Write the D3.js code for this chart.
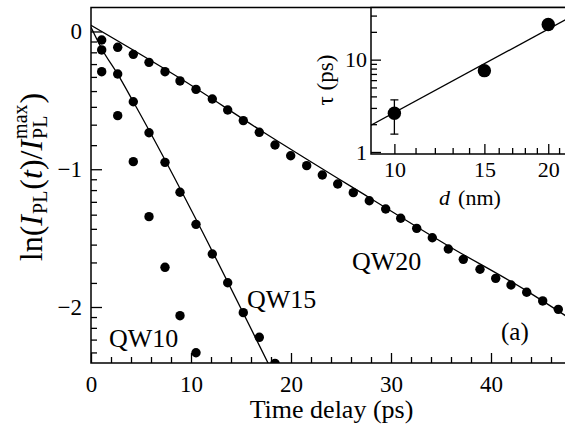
<!DOCTYPE html>
<html>
<head>
<meta charset="utf-8">
<title>PL decay</title>
<script src="https://cdn.jsdelivr.net/npm/d3@7"></script>
<style>
  body { margin: 0; background: #fff; }
  text { font-family: "Liberation Serif", "Times New Roman", serif; fill: #000; }
</style>
</head>
<body>
<div id="chart"></div>

<script type="text/javascript">
	// time delays (ps) of the measured points
	var times = [1.07, 2.67, 4.23, 5.8, 7.4, 8.9, 10.5, 12.13, 13.67, 15.23,
		16.83, 18.4, 19.97, 21.57, 23.13, 24.67, 26.23, 27.83, 29.47, 30.97,
		32.57, 34.13, 35.73, 37.23, 38.9, 40.47, 42.0, 43.57, 45.17, 46.73];
	// ln(I/Imax) for each well
	var qw20 = [-0.062, -0.115, -0.166, -0.224, -0.292, -0.359, -0.42, -0.49, -0.57, -0.647,
		-0.732, -0.824, -0.902, -0.974, -1.042, -1.107, -1.17, -1.229, -1.289, -1.356,
		-1.429, -1.497, -1.579, -1.654, -1.726, -1.792, -1.84, -1.893, -1.956, -2.017];
	var qw15 = [-0.134, -0.309, -0.51, -0.735, -0.95, -1.167, -1.40, -1.615, -1.824, -2.041, -2.22, -2.409];
	var qw10 = [-0.292, -0.611, -0.945, -1.344, -1.712, -2.063, -2.332];

	// fitted curves
	var fit20T = [0, 8.9, 16.9, 27.8, 35.7, 43.6, 47.7];
	var fit20Y = [0.045, -0.34, -0.715, -1.205, -1.555, -1.885, -2.075];
	var fit15T = [0, 1.07, 2.67, 4.23, 18];
	var fit15Y = [0.03, -0.125, -0.31, -0.51, -2.45];

	var xTicks = [0, 10, 20, 30, 40];
	var yTicks = [0, -1, -2];

	// inset: decay time vs well width
	var widths = [10, 15, 20];
	var tau = [2.63, 7.6, 24.0];
	var errD = [10], errLo = [1.56], errHi = [3.67];
	var fitD = [9, 22], fitTau = [1.95, 28.5];
	var dTicks = [10, 15, 20];
	var dMinor = [11, 12, 13, 14, 16, 17, 18, 19, 21];
	var tauTicks = [1, 10];
	var tauMinor = [2, 3, 4, 5, 6, 7, 8, 9, 20, 30];

	var width = 565, height = 431;
	var svg = d3.select("#chart").append("svg")
		.attr("width", width)
		.attr("height", height);

	var L = 91, R = 568, T = 7.5, B = 363;
	var x = d3.scaleLinear().domain([0, 47.7]).range([L, R]);
	var y = d3.scaleLinear().domain([-2.4065, 0.174]).range([B, T]);

	svg.append("clipPath").attr("id", "clipMain").append("rect")
		.attr("x", L).attr("y", T).attr("width", R - L).attr("height", B - T);

	// minor ticks of the y axis: linear steps in I between e^n and e^(n-1)
	var yMinor = [];
	yTicks.forEach(function(n) {
		for (var k = 1; k <= 8; k++) {
			var v = Math.log(Math.exp(n) - k * (Math.exp(n) - Math.exp(n - 1)) / 9);
			if (v > y.domain()[0]) yMinor.push(v);
		}
	});
	var xMinor = d3.range(2, 48, 2).filter(function(d) { return d % 10 != 0; });

	function styleAxis(g) {
		g.select(".domain").remove();
		g.selectAll("line").attr("stroke", "#000").attr("stroke-width", 1.3);
		g.selectAll("text").attr("fill", "#000");
	}

	var fmt = function(d) { return d < 0 ? "\u2212" + Math.abs(d) : "" + d; };

	svg.append("g").attr("transform", "translate(0," + B + ")")
		.call(d3.axisBottom(x).tickValues(xTicks).tickSize(-10).tickPadding(12.7).tickFormat(fmt))
		.call(styleAxis).attr("font-size", 23);
	svg.append("g").attr("transform", "translate(0," + B + ")")
		.call(d3.axisBottom(x).tickValues(xMinor).tickSize(-6).tickFormat(""))
		.call(styleAxis);
	svg.append("g").attr("transform", "translate(" + L + ",0)")
		.call(d3.axisLeft(y).tickValues(yTicks).tickSize(-11).tickPadding(9).tickFormat(fmt))
		.call(styleAxis).attr("font-size", 23);
	svg.append("g").attr("transform", "translate(" + L + ",0)")
		.call(d3.axisLeft(y).tickValues(yMinor).tickSize(-6).tickFormat(""))
		.call(styleAxis);

	// frame
	svg.append("path")
		.attr("d", "M" + R + "," + T + "H" + L + "V" + B + "H" + R)
		.attr("fill", "none").attr("stroke", "#000").attr("stroke-width", 1.5);

	var plot = svg.append("g").attr("clip-path", "url(#clipMain)");
	var line = d3.line().x(function(d) { return x(d[0]); }).y(function(d) { return y(d[1]); })
		.curve(d3.curveMonotoneX);

	plot.append("path").datum(d3.zip(fit20T, fit20Y))
		.attr("d", line).attr("fill", "none").attr("stroke", "#000").attr("stroke-width", 1.3);
	plot.append("path").datum(d3.zip(fit15T, fit15Y))
		.attr("d", line).attr("fill", "none").attr("stroke", "#000").attr("stroke-width", 1.3);

	[qw20, qw15, qw10].forEach(function(s) {
		plot.append("g").selectAll("circle").data(s).enter().append("circle")
			.attr("cx", function(d, i) { return x(times[i]); })
			.attr("cy", function(d) { return y(d); })
			.attr("r", 4.7)
			.attr("fill", "#000");
	});

	// labels in the main panel
	var labels = [["QW20", 352, 270], ["QW15", 247, 308], ["QW10", 109, 347]];
	svg.selectAll("text.lab").data(labels).enter().append("text")
		.attr("class", "lab")
		.attr("x", function(d) { return d[1]; })
		.attr("y", function(d) { return d[2]; })
		.attr("font-size", 26)
		.text(function(d) { return d[0]; });
	svg.append("text").attr("x", 501).attr("y", 340).attr("font-size", 25).text("(a)");

	svg.append("text").attr("x", (L + R) / 2 + 2).attr("y", 418)
		.attr("text-anchor", "middle").attr("font-size", 26)
		.text("Time delay (ps)");

	// y title with stacked sub/superscript
	var yt = svg.append("text")
		.attr("transform", "translate(42,177) rotate(-90)")
		.attr("text-anchor", "middle")
		.attr("font-size", 32);
	yt.append("tspan").text("ln(");
	yt.append("tspan").attr("font-style", "italic").text("I");
	yt.append("tspan").attr("font-size", 20).attr("dx", 1).attr("dy", 5).text("PL");
	yt.append("tspan").attr("dx", 1).attr("dy", -5).text("(");
	yt.append("tspan").attr("font-style", "italic").text("t");
	yt.append("tspan").text(")/");
	yt.append("tspan").attr("font-style", "italic").text("I");
	var sub = yt.append("tspan").attr("font-size", 20).attr("dx", 1).attr("dy", 5).text("PL");
	var subW = sub.node().getComputedTextLength();
	yt.append("tspan").attr("font-size", 20).attr("dx", -subW).attr("dy", -20).text("max");
	yt.append("tspan").attr("dx", 1).attr("dy", 15).text(")");

	// ---- inset ----
	var iL = 371, iR = 569.4, iT = 7.5, iB = 154;
	var xi = d3.scaleLog().domain([9, 22]).range([iL, iR]);
	var yi = d3.scaleLog().domain([0.951, 36.7]).range([iB, iT]);

	svg.append("rect").attr("x", iL).attr("y", iT).attr("width", 10 + iR - iL).attr("height", iB - iT)
		.attr("fill", "#fff").attr("stroke", "#000").attr("stroke-width", 1.5);

	svg.append("g").attr("transform", "translate(0," + iB + ")")
		.call(d3.axisBottom(xi).tickValues(dTicks).tickSize(-10).tickPadding(7.4).tickFormat(d3.format("d")))
		.call(styleAxis).attr("font-size", 22);
	svg.append("g").attr("transform", "translate(0," + iB + ")")
		.call(d3.axisBottom(xi).tickValues(dMinor).tickSize(-6).tickFormat(""))
		.call(styleAxis);
	svg.append("g").attr("transform", "translate(" + iL + ",0)")
		.call(d3.axisLeft(yi).tickValues(tauTicks).tickSize(-10).tickPadding(4).tickFormat(d3.format("d")))
		.call(styleAxis).attr("font-size", 22);
	svg.append("g").attr("transform", "translate(" + iL + ",0)")
		.call(d3.axisLeft(yi).tickValues(tauMinor).tickSize(-6).tickFormat(""))
		.call(styleAxis);

	svg.append("clipPath").attr("id", "clipInset").append("rect")
		.attr("x", iL).attr("y", iT).attr("width", iR - iL + 10).attr("height", iB - iT);
	var inset = svg.append("g").attr("clip-path", "url(#clipInset)");

	inset.append("path").datum(d3.zip(fitD, fitTau))
		.attr("d", d3.line().x(function(d) { return xi(d[0]); }).y(function(d) { return yi(d[1]); }))
		.attr("fill", "none").attr("stroke", "#000").attr("stroke-width", 1.3);

	errD.forEach(function(d, i) {
		var g = inset.append("g").attr("stroke", "#000").attr("stroke-width", 1.3);
		g.append("line").attr("x1", xi(d)).attr("x2", xi(d)).attr("y1", yi(errLo[i])).attr("y2", yi(errHi[i]));
		g.append("line").attr("x1", xi(d) - 4).attr("x2", xi(d) + 4).attr("y1", yi(errLo[i])).attr("y2", yi(errLo[i]));
		g.append("line").attr("x1", xi(d) - 4).attr("x2", xi(d) + 4).attr("y1", yi(errHi[i])).attr("y2", yi(errHi[i]));
	});

	inset.selectAll("circle").data(widths).enter().append("circle")
		.attr("cx", function(d) { return xi(d); })
		.attr("cy", function(d, i) { return yi(tau[i]); })
		.attr("r", 6.7)
		.attr("fill", "#000");

	var tt = svg.append("text")
		.attr("transform", "translate(333,80) rotate(-90)")
		.attr("text-anchor", "middle")
		.attr("font-size", 23);
	tt.append("tspan").text("\u03c4 (ps)");

	var dt = svg.append("text").attr("x", 470).attr("y", 205)
		.attr("text-anchor", "middle").attr("font-size", 22);
	dt.append("tspan").attr("font-style", "italic").text("d");
	dt.append("tspan").attr("dx", 8).text("(nm)");
</script>
</body>
</html>
